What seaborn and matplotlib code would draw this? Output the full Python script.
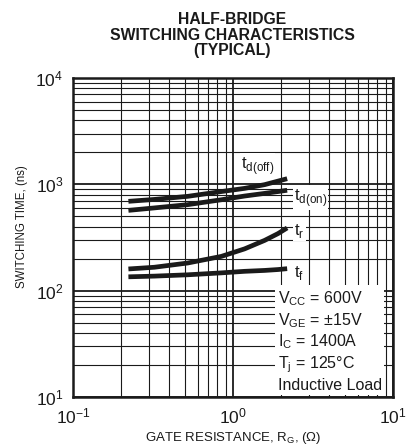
import matplotlib
matplotlib.use("Agg")
import matplotlib.pyplot as plt
import seaborn as sns
import pandas as pd
import numpy as np
from matplotlib.ticker import LogLocator, NullFormatter

rg = [0.222, 0.322, 0.521, 0.845, 1.18, 1.576, 1.91, 2.18]
td_off = [692, 721, 771, 855, 916, 993, 1072, 1130]
td_on = [569, 600, 644, 716, 776, 822, 855, 879]
t_r = [160, 166, 182, 210, 247, 297, 344, 389]
t_f = [135, 137, 141, 147, 152, 155, 158, 161]

series_names = ["td_off", "td_on", "t_r", "t_f"]
rows = []
for name, vals in zip(series_names, [td_off, td_on, t_r, t_f]):
    for x, y in zip(rg, vals):
        rows.append({"rg": x, "t": y, "series": name})
df = pd.DataFrame(rows)

sns.set_theme(style="white")
plt.rcParams['font.family'] = ['Liberation Sans', 'DejaVu Sans']

fig = plt.figure(figsize=(4.14, 4.46), dpi=100)
ax = fig.add_axes([73/414, 1-397/446, 320/414, 319/446])

sns.lineplot(data=df, x="rg", y="t", units="series", estimator=None,
             color="#1a1a1a", lw=3.4, ax=ax, legend=False, zorder=3)
for l in ax.lines:
    l.set_solid_capstyle("butt")
    l.set_solid_joinstyle("round")
ax.set_xscale("log")
ax.set_yscale("log")
ax.set_xlim(0.1, 10)
ax.set_ylim(10, 1e4)

ax.xaxis.set_major_locator(LogLocator(base=10, numticks=10))
ax.xaxis.set_minor_locator(LogLocator(base=10, subs=np.arange(2, 10), numticks=20))
ax.yaxis.set_major_locator(LogLocator(base=10, numticks=10))
ax.yaxis.set_minor_locator(LogLocator(base=10, subs=np.arange(2, 10), numticks=20))
ax.xaxis.set_minor_formatter(NullFormatter())
ax.yaxis.set_minor_formatter(NullFormatter())

ax.grid(True, which="major", color="#1a1a1a", lw=1.3)
ax.grid(True, which="minor", color="#1a1a1a", lw=0.8)
for s in ax.spines.values():
    s.set_color("#1a1a1a")
    s.set_linewidth(1.8)
ax.tick_params(axis="both", which="major", labelsize=12.5, length=0, pad=7, colors="#1a1a1a")
ax.tick_params(axis="both", which="minor", length=0)
ax.set_xlabel("")
ax.set_ylabel("")

fig.text(233/414, 1-438/446, "GATE RESISTANCE, R$_\\mathregular{G}$, (Ω)",
         fontsize=9.5, color="#1a1a1a", ha="center", va="center")
fig.text(22/414, 1-227/446, "SWITCHING TIME, (ns)", rotation=90,
         fontsize=8.3, color="#1a1a1a", ha="center", va="center")

fig.text(232/414, 1-35/446, "HALF-BRIDGE\nSWITCHING CHARACTERISTICS\n(TYPICAL)",
         ha="center", va="center", fontsize=11.3, fontweight="bold",
         color="#1a1a1a", linespacing=1.05)

box = dict(facecolor="white", edgecolor="none", pad=1)
lab_kw = dict(fontsize=12, color="#1a1a1a", bbox=box, va="center", ha="left", zorder=4)
ax.text(1.12, 1500, "t$_\\mathregular{d(off)}$", **lab_kw)
ax.text(2.4, 750, "t$_\\mathregular{d(on)}$", **lab_kw)
ax.text(2.4, 365, "t$_\\mathregular{r}$", **lab_kw)
ax.text(2.4, 147, "t$_\\mathregular{f}$", **lab_kw)

cond = ("V$_\\mathregular{CC}$ = 600V\nV$_\\mathregular{GE}$ = ±15V\nI$_\\mathregular{C}$ = 1400A\n"
        "T$_\\mathregular{j}$ = 125°C\nInductive Load")
ax.text(1.9, 11.0, cond, fontsize=11.5, color="#1a1a1a", ha="left", va="bottom",
        linespacing=1.22, zorder=4,
        bbox=dict(facecolor="white", edgecolor="none", pad=2))

fig.savefig("out.png", dpi=100)
